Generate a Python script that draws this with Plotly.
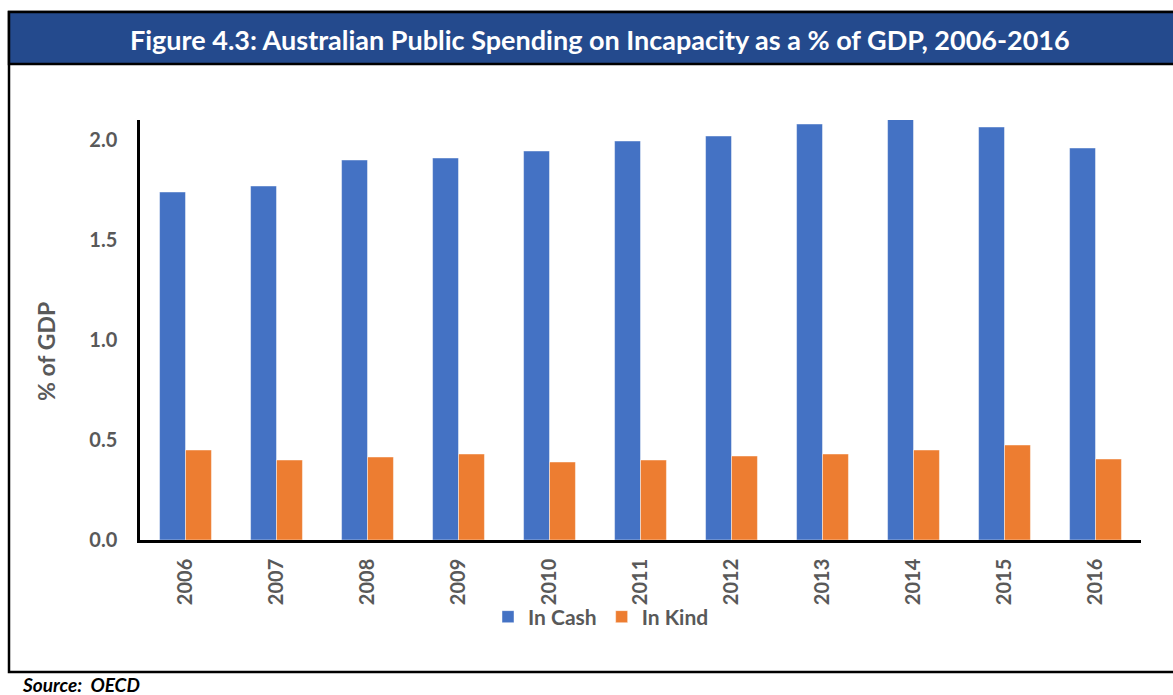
import plotly.graph_objects as go

# Australian public spending on incapacity, % of GDP (OECD)
years = ["2006", "2007", "2008", "2009", "2010", "2011",
         "2012", "2013", "2014", "2015", "2016"]
in_cash = [1.74, 1.77, 1.90, 1.91, 1.945, 1.995, 2.02, 2.08, 2.105, 2.065, 1.96]
in_kind = [0.45, 0.40, 0.415, 0.43, 0.39, 0.40, 0.42, 0.43, 0.45, 0.475, 0.405]

W, H = 1173, 695
L, R, T, B = 140, 32, 120, 155
PW, PH = W - L - R, H - T - B

def px_x(x):
    return (x - L) / PW

def px_y(y):
    return (H - B - y) / PH

FONT = "Lato"
GREY = "#595959"

fig = go.Figure()
fig.add_bar(name="In Cash", x=years, y=in_cash, marker_color="#4472C4",
            marker_line=dict(color="rgba(255,255,255,0.45)", width=1))
fig.add_bar(name="In Kind", x=years, y=in_kind, marker_color="#ED7D31",
            marker_line=dict(color="rgba(255,255,255,0.45)", width=1))

fig.update_layout(
    width=W, height=H,
    margin=dict(l=L, r=R, t=T, b=B),
    paper_bgcolor="white", plot_bgcolor="white",
    barmode="group", bargap=0.43, bargroupgap=0,
    font=dict(family=FONT, color=GREY),
    showlegend=True,
    legend=dict(orientation="h", x=px_x(488), y=px_y(617),
                xanchor="left", yanchor="middle",
                font=dict(size=21, family=FONT, color=GREY, weight="bold"),
                itemwidth=30, bgcolor="rgba(0,0,0,0)"),
)

fig.update_xaxes(
    showline=True, linecolor="black", linewidth=2.5,
    tickangle=-90, ticks="outside", ticklen=8, tickcolor="rgba(0,0,0,0)",
    tickfont=dict(size=20, family=FONT, color=GREY, weight="bold"),
    showgrid=False, zeroline=False,
)
fig.update_yaxes(
    range=[0, 2.1], dtick=0.5, tickformat=".1f",
    showline=True, linecolor="black", linewidth=2.5,
    ticks="outside", ticklen=16, tickcolor="rgba(0,0,0,0)",
    tickfont=dict(size=20, family=FONT, color=GREY, weight="bold"),
    showgrid=False, zeroline=False,
)

# Outer frame and title band
fig.add_shape(type="rect", xref="paper", yref="paper",
              x0=px_x(9), x1=px_x(1178), y0=px_y(672), y1=px_y(12),
              line=dict(color="black", width=2.5), fillcolor="rgba(0,0,0,0)",
              layer="below")
fig.add_shape(type="rect", xref="paper", yref="paper",
              x0=px_x(9), x1=px_x(1178), y0=px_y(64), y1=px_y(12),
              line=dict(color="black", width=2.5), fillcolor="#244A8D",
              layer="below")

fig.add_annotation(
    text="<b>Figure 4.3: Australian Public Spending on Incapacity as a % of GDP, 2006-2016</b>",
    xref="paper", yref="paper", x=px_x(600), y=px_y(39),
    xanchor="center", yanchor="middle", showarrow=False,
    font=dict(size=27, family=FONT, color="white"),
)
fig.add_annotation(
    text="<b>% of GDP</b>", textangle=-90,
    xref="paper", yref="paper", x=px_x(46), y=px_y(352),
    xanchor="center", yanchor="middle", showarrow=False,
    font=dict(size=23, family=FONT, color=GREY),
)
fig.add_annotation(
    text="<b><i>Source:\u00a0\u00a0OECD</i></b>",
    xref="paper", yref="paper", x=px_x(20), y=px_y(684),
    xanchor="left", yanchor="middle", showarrow=False,
    font=dict(size=19, family=FONT, color="black"),
)

fig.write_html("out.html")
